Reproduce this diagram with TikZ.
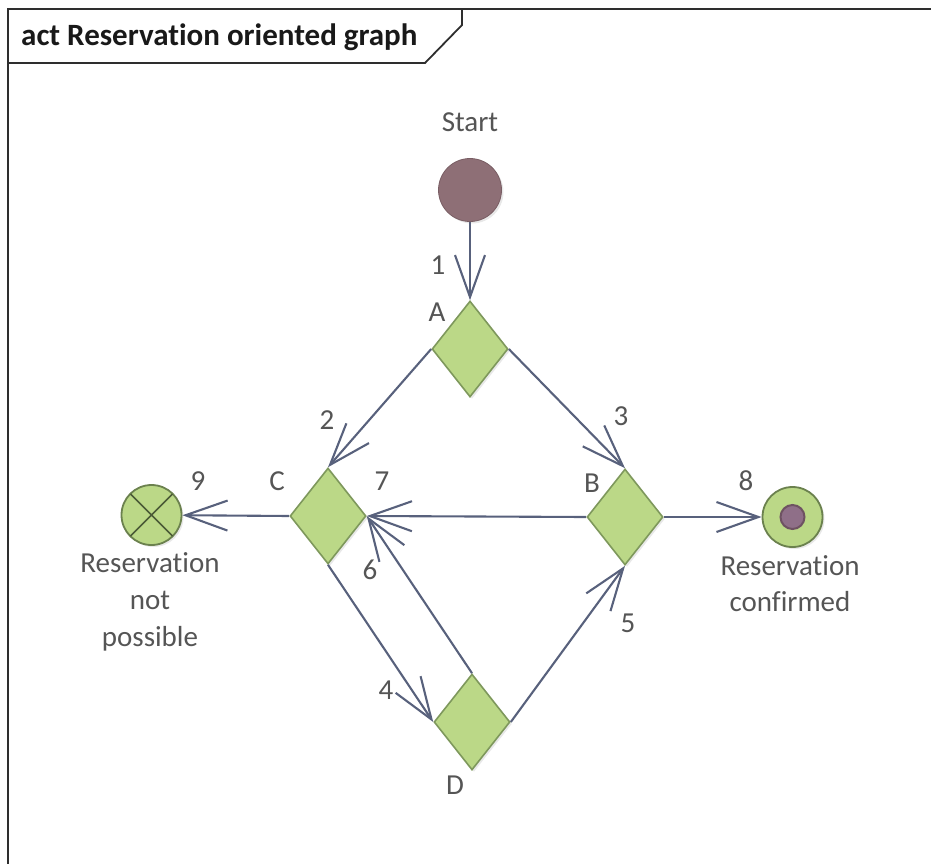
\documentclass[tikz,border=0pt]{standalone}
\usepackage{fontspec}
\setmainfont{Carlito}[Ligatures={NoCommon}]
\usetikzlibrary{arrows.meta,shapes.geometric,shadows,calc}

\definecolor{edgecol}{HTML}{58617C}
\definecolor{decfill}{HTML}{BBD887}
\definecolor{decdraw}{HTML}{7E985C}
\definecolor{initfill}{HTML}{8E6F76}
\definecolor{finaldot}{HTML}{8F6F88}
\definecolor{finalring}{HTML}{6E5262}
\definecolor{labelcol}{HTML}{555555}
\definecolor{framecol}{HTML}{2E2E2E}

\tikzset{
  decision/.style={diamond, draw=decdraw, line width=1.6pt, fill=decfill,
    minimum width=76pt, minimum height=96pt, inner sep=0pt,
    drop shadow={shadow xshift=2pt, shadow yshift=-2pt, opacity=0.18}},
  initial/.style={circle, fill=initfill, draw=initfill!85!black, line width=0.8pt,
    minimum size=63pt, inner sep=0pt,
    drop shadow={shadow xshift=2pt, shadow yshift=-2pt, opacity=0.18}},
  finalnode/.style={circle, fill=decfill, draw=decdraw!85!black, line width=1.8pt,
    minimum size=60pt, inner sep=0pt,
    drop shadow={shadow xshift=2pt, shadow yshift=-2pt, opacity=0.18}},
  flow/.style={draw=edgecol, line width=2.1pt,
    -{Straight Barb[length=42pt, width=30pt, line width=2.1pt]}},
  lbl/.style={text=labelcol, font=\fontsize{29}{36}\selectfont, inner sep=0pt},
  nametxt/.style={lbl, align=center},
}

\begin{document}
\begin{tikzpicture}[x=1pt, y=-1pt]
  \useasboundingbox (0,0) rectangle (931,864);
  \clip (0,0) rectangle (931,864);

  % diagram frame and its header tab
  \draw[framecol, line width=2.4pt] (8,880) -- (8,9) -- (945,9);
  \draw[framecol, line width=1.8pt] (8,63) -- (425,63) -- (462,25) -- (462,9);
  \node[anchor=west, inner sep=0pt, text=black!90,
        font=\bfseries\fontsize{31}{36}\selectfont] (title) at (21,37)
        {act Reservation oriented graph};

  % nodes
  \node[initial]   (start) at (470,190) {};
  \node[decision]  (A) at (470,349) {};
  \node[decision]  (B) at (625,517) {};
  \node[decision]  (C) at (328,516) {};
  \node[decision]  (D) at (472,722) {};
  \node[finalnode] (fail) at (151.5,515) {};
  \node[finalnode] (ok)   at (792.5,517) {};

  % flow-final cross and activity-final dot
  \draw[decdraw!60!black, line width=1.6pt]
    ($(fail)+(-21,-21)$) -- ($(fail)+(21,21)$)
    ($(fail)+(21,-21)$) -- ($(fail)+(-21,21)$);
  \node[circle, fill=finaldot, draw=finalring, line width=2pt,
        minimum size=24pt, inner sep=0pt] (okdot) at (ok) {};

  % node names
  \node[lbl] (tStart) at (470,122) {Start};
  \node[lbl] (tA) at (437,312) {A};
  \node[lbl] (tB) at (592,483) {B};
  \node[lbl] (tC) at (277,481) {C};
  \node[lbl] (tD) at (455,785) {D};
  \node[nametxt, text depth=0pt] (tfail) at (150,600)
       {Reservation\\[1pt]not\\[1pt]possible};
  \node[nametxt] (tok) at (790,584) {Reservation\\[0pt]confirmed};

  % control flows
  \draw[flow] (start) -- (A.north);
  \draw[flow] (A.west) -- (C.north);
  \draw[flow] (A.east) -- (B.north);
  \draw[flow] (B.west) -- (C.east);
  \draw[flow] (B.east) -- (ok);
  \draw[flow] (C.west) -- (fail);
  \draw[flow] (C.south) -- (D.west);
  \draw[flow] (D.east) -- (B.south);
  \draw[flow] (D.north) -- (C.east);

  % flow numbers
  \node[lbl] (n1) at (438,265) {1};
  \node[lbl] (n2) at (327,420) {2};
  \node[lbl] (n3) at (621,416) {3};
  \node[lbl] (n4) at (386,690) {4};
  \node[lbl] (n5) at (628,623) {5};
  \node[lbl] (n6) at (370,570) {6};
  \node[lbl] (n7) at (382,481) {7};
  \node[lbl] (n8) at (746,481) {8};
  \node[lbl] (n9) at (198,481) {9};
\end{tikzpicture}
\end{document}
